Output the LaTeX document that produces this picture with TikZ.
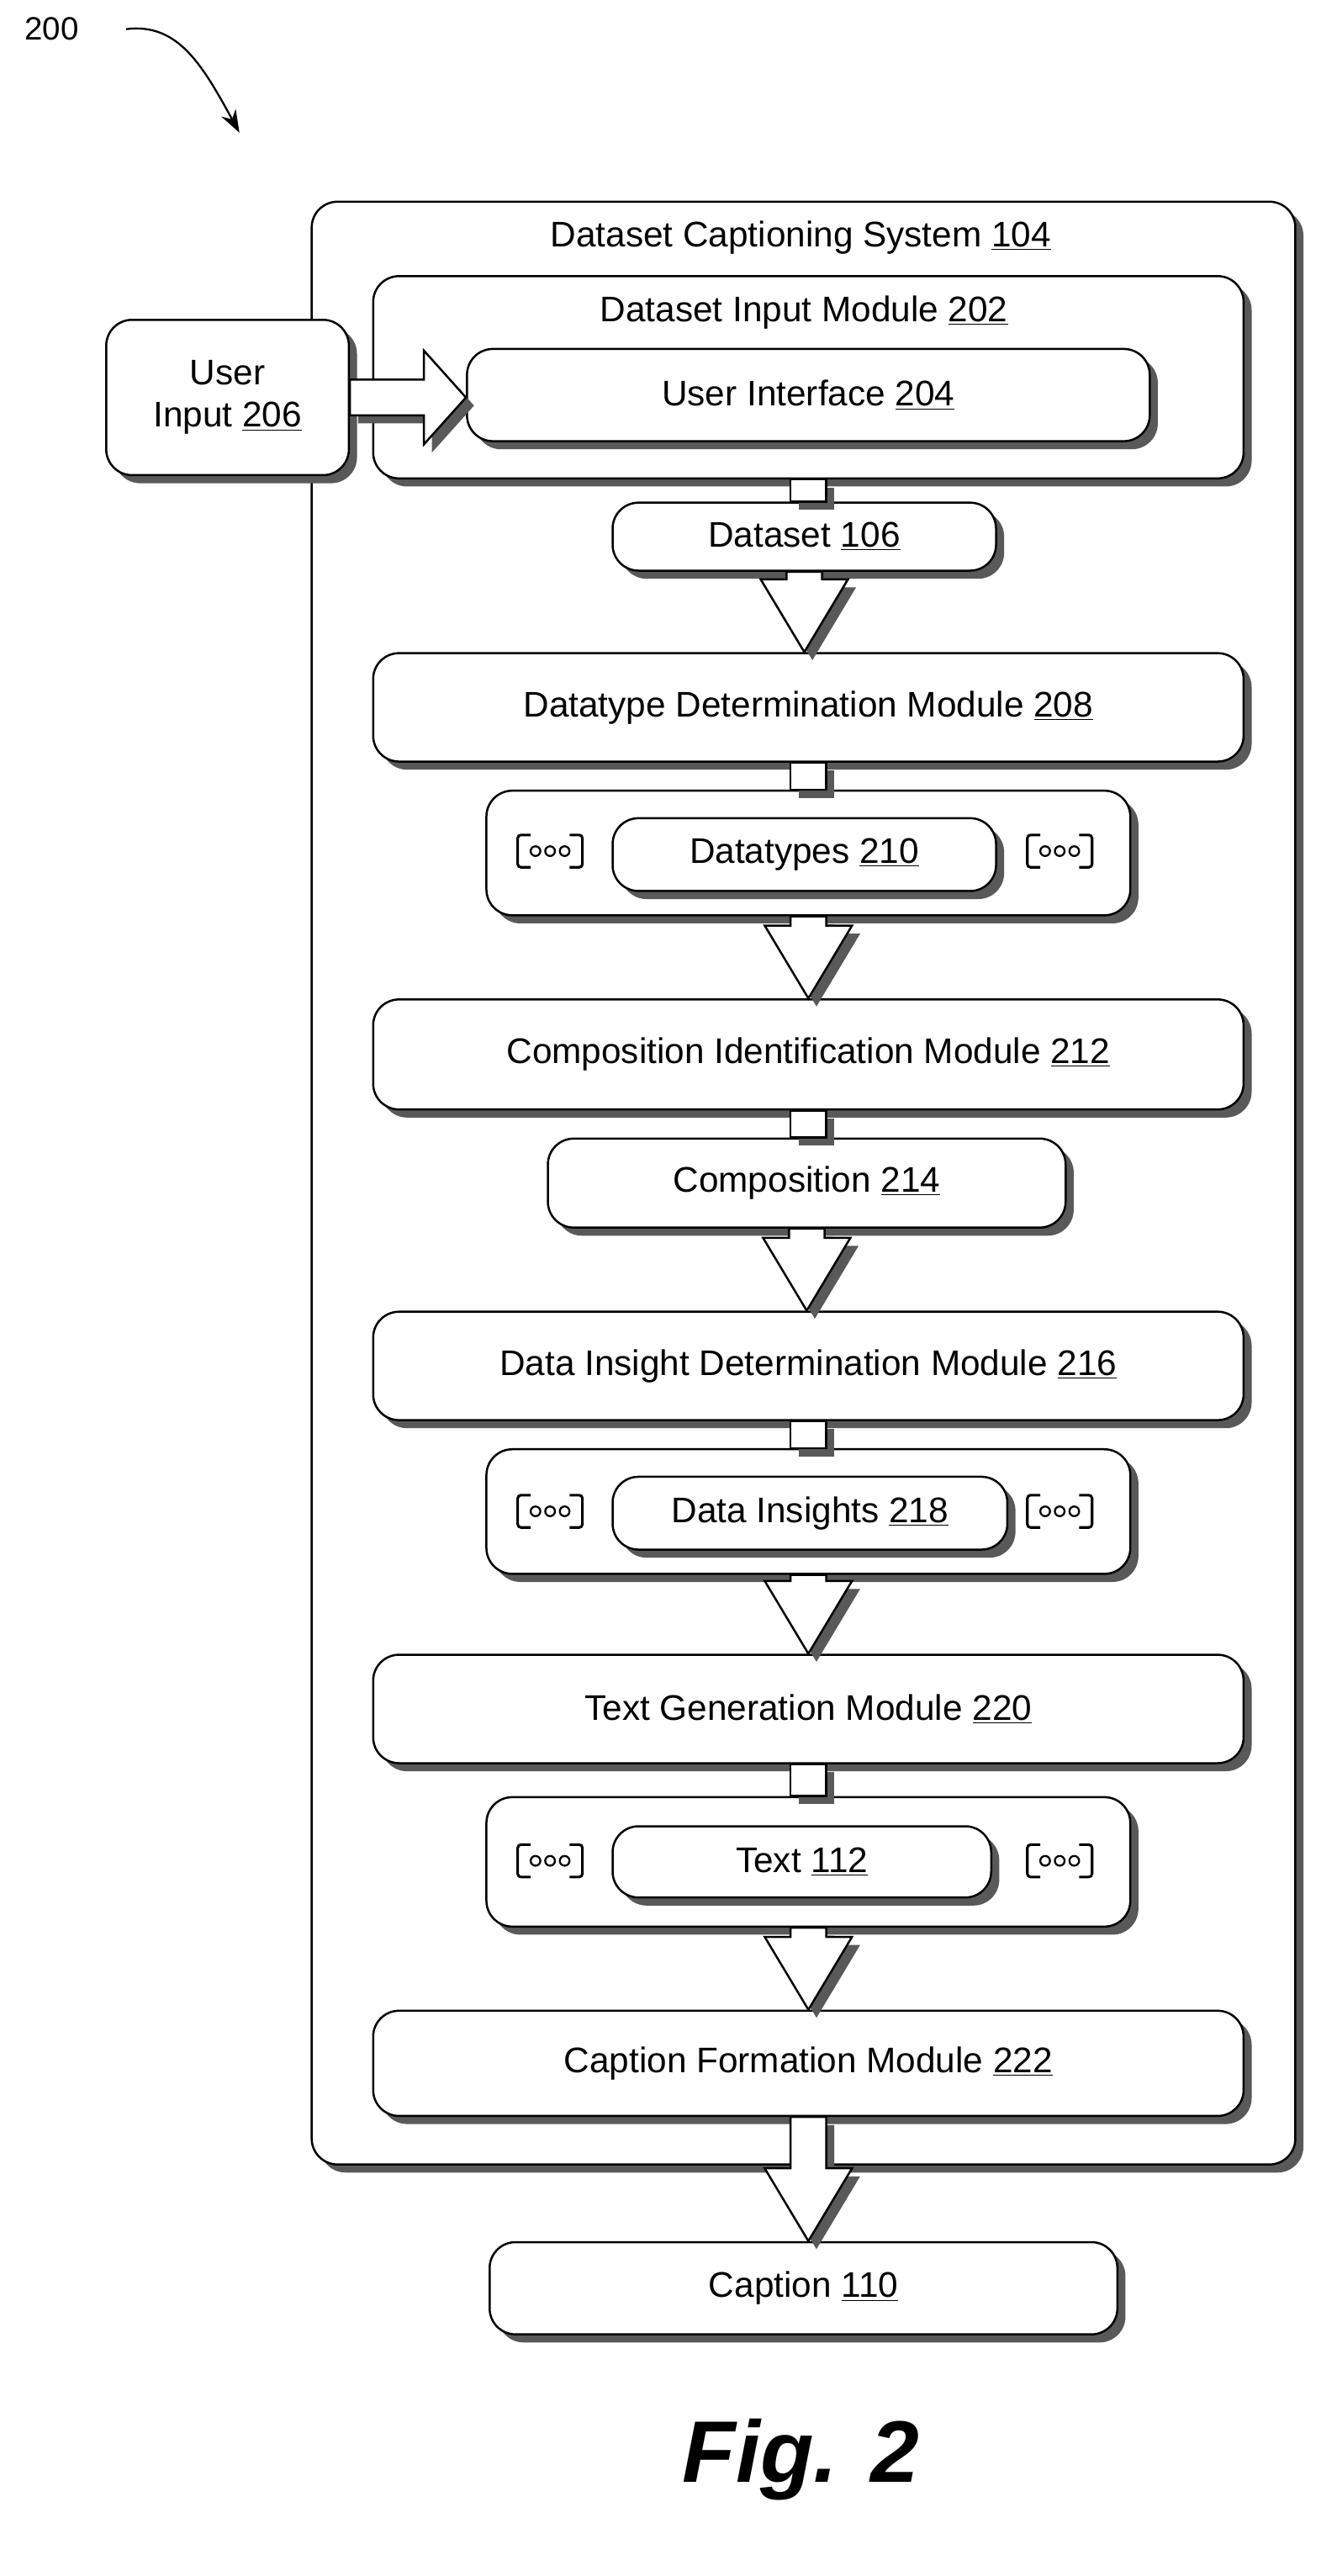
\documentclass[tikz,border=0pt]{standalone}
\usepackage{fontspec}
\setmainfont{Liberation Sans}
\usetikzlibrary{shadows,calc,arrows.meta}
\begin{document}
\begin{tikzpicture}[x=1pt,y=-1pt,
  shd/.style={drop shadow={shadow xshift=5pt,shadow yshift=-5pt,fill=black!65,opacity=1}},
  box/.style={draw,line width=1.3pt,rounded corners=16pt,fill=white,shd,font=\fontsize{22}{26}\selectfont},
  barrow/.style={draw,line width=1.3pt,fill=white,shd,line join=miter},
  u/.style={}]
\useasboundingbox (0,0) rectangle (826,1592);
\newcommand\un[1]{\underline{#1}}
% label 200
\node[font=\fontsize{20}{24}\selectfont] (lbl) at (32,18) {200};
\coordinate (lblend) at (148,82);
\draw[line width=1.2pt,-{Stealth[length=14pt,width=10pt]}] (78,18) .. controls (110,14) and (125,40) .. (lblend);
% outer
\node[box,minimum width=608pt,minimum height=1213pt,anchor=north west] (sys) at (192,124) {};
\node[font=\fontsize{22}{26}\selectfont] (syst) at (495,147) {Dataset Captioning System \un{104}};
% shafts behind
\newcommand\shaft[2]{\path[barrow] let \p1=(#1.south),\p2=(#2.north) in (\x1-11pt,\y1) rectangle (\x1+11pt,\y2);}
\newcommand\barr[2]{\path[barrow] let \p1=(#1.south),\p2=(#2.north) in (\x1-11pt,\y1) -- (\x1+11pt,\y1) -- (\x1+11pt,\y2+45pt) -- (\x1+27pt,\y2+45pt) -- (\x1,\y2) -- (\x1-27pt,\y2+45pt) -- (\x1-11pt,\y2+45pt) -- cycle;}
% nodes
\node[box,minimum width=538pt,minimum height=125pt,anchor=north west] (dim) at (230,170) {};
\node[font=\fontsize{22}{26}\selectfont] (dimt) at (497,193) {Dataset Input Module \un{202}};
\node[box,minimum width=422pt,minimum height=57pt,anchor=north west] (ui) at (288,215) {User Interface \un{204}};
\node[box,minimum width=150pt,minimum height=96pt,anchor=north west,align=center] (uin) at (65,197) {User\\Input \un{206}};
\path[barrow] let \p1=(uin.east),\p2=(ui.west) in (\x1,\y1-11pt) -- (\x2-26pt,\y1-11pt) -- (\x2-26pt,\y1-29pt) -- (\x2,\y1) -- (\x2-26pt,\y1+29pt) -- (\x2-26pt,\y1+11pt) -- (\x1,\y1+11pt) -- cycle;
\node[box,minimum width=237pt,minimum height=42pt,anchor=north west] (ds) at (378,310) {Dataset \un{106}};
\node[box,minimum width=538pt,minimum height=67pt,anchor=north west] (ddm) at (230,403) {Datatype Determination Module \un{208}};
\node[box,minimum width=398pt,minimum height=77pt,anchor=north west] (dtc) at (300,488) {};
\node[box,minimum width=237pt,minimum height=45pt,anchor=north west] (dt) at (378,505) {Datatypes \un{210}};
\node[box,minimum width=538pt,minimum height=68pt,anchor=north west] (cim) at (230,617) {Composition Identification Module \un{212}};
\node[box,minimum width=320pt,minimum height=55pt,anchor=north west] (cp) at (338,703) {Composition \un{214}};
\node[box,minimum width=538pt,minimum height=67pt,anchor=north west] (didm) at (230,810) {Data Insight Determination Module \un{216}};
\node[box,minimum width=398pt,minimum height=77pt,anchor=north west] (dic) at (300,895) {};
\node[box,minimum width=244pt,minimum height=45pt,anchor=north west] (di) at (378,912) {Data Insights \un{218}};
\node[box,minimum width=538pt,minimum height=67pt,anchor=north west] (tgm) at (230,1022) {Text Generation Module \un{220}};
\node[box,minimum width=398pt,minimum height=80pt,anchor=north west] (txc) at (300,1110) {};
\node[box,minimum width=234pt,minimum height=44pt,anchor=north west] (tx) at (378,1128) {Text \un{112}};
\node[box,minimum width=538pt,minimum height=65pt,anchor=north west] (cfm) at (230,1242) {Caption Formation Module \un{222}};
\node[box,minimum width=388pt,minimum height=57pt,anchor=north west] (cap) at (302,1385) {Caption \un{110}};
% arrows
\shaft{dim}{ds}
\barr{ds}{ddm}
\shaft{ddm}{dtc}
\barr{dtc}{cim}
\shaft{cim}{cp}
\barr{cp}{didm}
\shaft{didm}{dic}
\barr{dic}{tgm}
\shaft{tgm}{txc}
\barr{txc}{cfm}
\barr{cfm}{cap}
% icons
\newcommand\icon[2]{%
 \draw[line width=1.6pt,rounded corners=2pt] (#1-12,#2-10) -- (#1-20,#2-10) -- (#1-20,#2+10) -- (#1-12,#2+10);
 \draw[line width=1.6pt,rounded corners=2pt] (#1+12,#2-10) -- (#1+20,#2-10) -- (#1+20,#2+10) -- (#1+12,#2+10);
 \foreach \d in {-9,0,9} \draw[line width=1.2pt] (#1+\d,#2) circle (3pt);}
\icon{340}{526}\icon{655}{526}
\icon{340}{934}\icon{655}{934}
\icon{340}{1150}\icon{655}{1150}
% fig
\node[font=\fontsize{54}{60}\selectfont\itshape\bfseries] (fig) at (495,1520) {Fig. 2};
\end{tikzpicture}
\end{document}
